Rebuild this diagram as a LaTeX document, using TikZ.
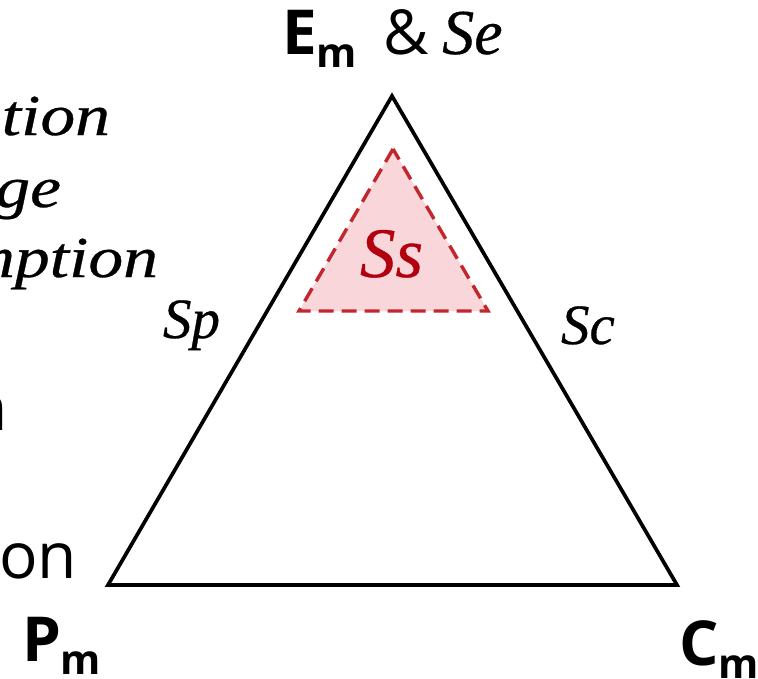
\documentclass[tikz,border=0pt]{standalone}
\usepackage{fontspec}
\setmainfont{Liberation Serif}[ItalicFeatures={FakeBold=0.5}]
\setsansfont{Open Sans}
\definecolor{ssred}{HTML}{C1272D}
\definecolor{ssfill}{HTML}{F8D6D9}
\definecolor{sstext}{HTML}{B3000F}
\newcommand\subm{\raisebox{-13pt}{\fontsize{41}{41}\selectfont m}}
\newcommand\widetxt[1]{\scalebox{1.2}[1]{#1}}
\begin{document}
\begin{tikzpicture}[x=1pt,y=-1pt,
  every node/.style={inner sep=0pt,outer sep=0pt},
  itlbl/.style={font=\fontsize{57}{60}\selectfont\itshape},
  sidetext/.style={font=\fontsize{58}{60}\selectfont\itshape, anchor=base east},
  sanstext/.style={font=\sffamily\fontsize{64}{70}\selectfont, anchor=base east},
  vert/.style={font=\sffamily\bfseries\fontsize{62}{62}\selectfont, anchor=base west},
  outer/.style={line width=3.7pt},
  inner/.style={draw=ssred, fill=ssfill, line width=3.4pt, dash pattern=on 15pt off 8pt}]
\useasboundingbox (0,0) rectangle (758,678);
\fill[white] (0,0) rectangle (758,678);
% big triangle
\coordinate (E) at (392,96);
\coordinate (P) at (108,585);
\coordinate (C) at (677,585);
\draw[outer] (E) -- (P) -- (C) -- cycle;
% small triangle
\coordinate (e) at (393,149);
\coordinate (p) at (299,311);
\coordinate (c) at (488,311);
\draw[inner] (e) -- (p) -- (c) -- cycle;
\node[font=\fontsize{71}{71}\selectfont\itshape, text=sstext, anchor=base west] (Ss) at (360,277) {Ss};
% vertex labels
\node[vert] (Elab) at (282,54) {E\subm\hspace{27pt}\mdseries\&\hspace{13pt}\rmfamily\fontsize{64}{64}\selectfont\itshape Se};
\node[vert] (Plab) at (22,661) {P\subm};
\node[vert] (Clab) at (679,665) {C\subm};
% side labels
\node[itlbl, anchor=base west] (Sp) at (163,338) {Sp};
\node[itlbl, anchor=base west] (Sc) at (561,344) {Sc};
% cut-off legend text
\node[sidetext] (t1) at (110,135) {\widetxt{tion}};
\node[sidetext] (t2) at (61,207) {\widetxt{ge}};
\node[sidetext] (t3) at (158,277) {\widetxt{mption}};
\node[sanstext] (t4) at (8,430) {n};
\node[sanstext] (t5) at (77,578) {on};
\end{tikzpicture}
\end{document}
